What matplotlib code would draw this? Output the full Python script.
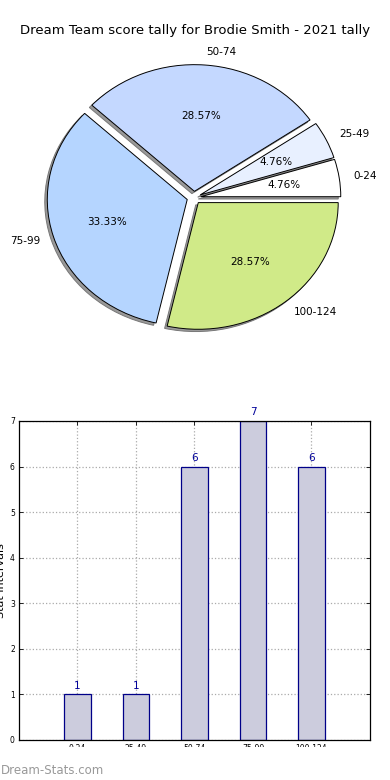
import matplotlib
matplotlib.use("Agg")
import matplotlib.pyplot as plt
from matplotlib.patches import Rectangle

# score tally data
intervals = ["0-24", "25-49", "50-74", "75-99", "100-124"]
counts = [1, 1, 6, 7, 6]
pie_colors = ["#ffffff", "#e8f0ff", "#c4d8ff", "#b5d5ff", "#d0ea88"]

fig = plt.figure(figsize=(3.9, 7.8), dpi=100)
fig.text(0.5, 0.961, "Dream Team score tally for Brodie Smith - 2021 tally",
         ha="center", va="center", fontsize=9.5)

# pie on top
ax1 = fig.add_axes([0.0487, 0.5436, 0.897, 0.406])
wedges, texts, autotexts = ax1.pie(
    counts, labels=intervals, colors=pie_colors, autopct="%1.2f%%",
    explode=[0.05] * len(counts), startangle=0,
    shadow={"ox": -0.013, "oy": -0.013, "facecolor": "#999999",
            "edgecolor": "#777777", "alpha": 1.0},
    wedgeprops={"edgecolor": "black", "linewidth": 0.7},
    textprops={"fontsize": 7.5})
ax1.set_aspect("auto")
ax1.set_xlim(-1.25, 1.25)
ax1.set_ylim(-1.25, 1.25)

# bar chart below
ax2 = fig.add_axes([0.0487, 0.0513, 0.9, 0.409])
xpos = list(range(1, len(counts) + 1))
bars = ax2.bar(xpos, counts, width=0.45, color="#ccccdd",
               edgecolor="#000088", linewidth=0.9, zorder=2)
for x, c in zip(xpos, counts):
    ax2.text(x, c + 0.08, str(c), ha="center", va="bottom",
             fontsize=7.5, color="#000099")
ax2.set_xlim(0, 6)
ax2.set_ylim(0, 7)
ax2.set_xticks(xpos)
ax2.set_xticklabels(intervals)
ax2.tick_params(direction="in", labelsize=5.5, top=True, right=True,
                length=3, width=0.6, pad=3)
ax2.grid(True, linestyle=":", color="#aaaaaa", linewidth=0.9, zorder=0)
ax2.set_axisbelow(True)
ax2.set_ylabel("Stat Intervals", fontsize=8, labelpad=3)
for s in ax2.spines.values():
    s.set_linewidth(0.9)

# white strip covering the bottom, with watermark
fig.patches.append(Rectangle((0, 0), 1, 33 / 780, transform=fig.transFigure,
                             facecolor="white", edgecolor="none", zorder=10))
fig.text(0.002, 0.012, "Dream-Stats.com", fontsize=8.5, color="#999999",
         ha="left", va="center", zorder=11)

fig.savefig("out.png", dpi=100)
